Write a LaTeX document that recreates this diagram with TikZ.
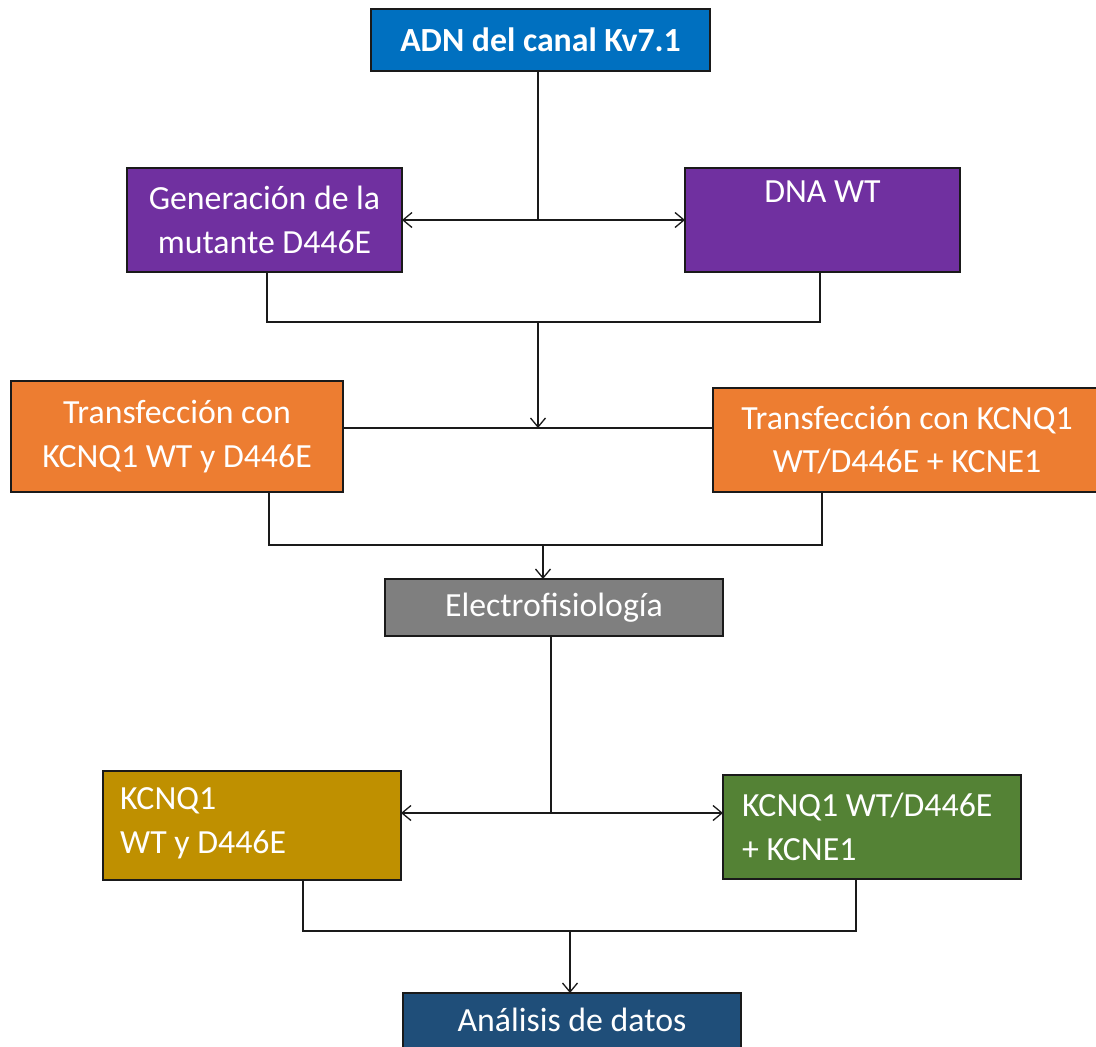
\documentclass[tikz,border=0pt]{standalone}
\usepackage{fontspec}
\setmainfont{Carlito}
\usetikzlibrary{arrows.meta}
\definecolor{cblue}{HTML}{0070C0}
\definecolor{cpurple}{HTML}{7030A0}
\definecolor{corange}{HTML}{ED7D31}
\definecolor{cgray}{HTML}{7F7F7F}
\definecolor{cyellow}{HTML}{BF9000}
\definecolor{cgreen}{HTML}{548235}
\definecolor{cnavy}{HTML}{1F4E79}
\definecolor{cline}{HTML}{1A1A1A}
\begin{document}
\begin{tikzpicture}[x=1pt,y=-1pt,
  box/.style={draw=cline,line width=1.6pt,text=white,inner sep=0pt,outer sep=0pt,
    font=\fontsize{33.8}{43.5}\selectfont,align=center},
  ltext/.style={text=white,inner sep=0pt,anchor=west,align=left,font=\fontsize{33.8}{43.5}\selectfont},
  conn/.style={draw=cline,line width=1.5pt},
  arr/.style={conn,-{Straight Barb[length=9pt,width=15pt,line width=1.3pt]}}]
\useasboundingbox (0,0) rectangle (1096,1047);
\fill[white] (0,0) rectangle (1096,1047);
% boxes
\node[box,fill=cblue,minimum width=339pt,minimum height=62pt,font=\fontsize{33.8}{43.5}\selectfont\bfseries] (top) at (540.5,40) {ADN del canal Kv7.1};
\node[box,fill=cpurple,minimum width=275pt,minimum height=104pt] (gen) at (264.5,220) {Generación de la\\mutante D446E};
\node[box,fill=cpurple,minimum width=275pt,minimum height=104pt] (dna) at (822.5,220) {DNA WT\\\strut};
\node[box,fill=corange,minimum width=332pt,minimum height=111pt] (tl) at (177,436.5) {Transfección con\\KCNQ1 WT y D446E};
\node[box,fill=corange,minimum width=388pt,minimum height=104pt] (tr) at (907,440) {Transfección con KCNQ1\\WT/D446E + KCNE1};
\node[box,fill=cgray,minimum width=338pt,minimum height=57pt] (el) at (554,607.5) {Electrofisiología};
\node[box,fill=cyellow,minimum width=298pt,minimum height=109pt] (bl) at (252,825.5) {};
\node[ltext] (bltext) at (120,823) {KCNQ1\\WT y D446E};
\node[box,fill=cgreen,minimum width=298pt,minimum height=104pt] (br) at (872,827) {};
\node[ltext] (brtext) at (742,827) {KCNQ1 WT/D446E\\+ KCNE1};
\node[box,fill=cnavy,minimum width=338pt,minimum height=64pt] (an) at (572,1025) {};
\node[text=white,font=\fontsize{33.8}{43.5}\selectfont,anchor=base] (antext) at (572,1031) {Análisis de datos};
% junction coordinates
\coordinate (j1) at (538,220);
\coordinate (b1) at (538,322);
\coordinate (c1) at (538,428);
\coordinate (gx) at (267,322);
\coordinate (dx) at (820,322);
\coordinate (tlx) at (269,545);
\coordinate (trx) at (822,545);
\coordinate (b2) at (543,545);
\coordinate (j2) at (551,813);
\coordinate (blx) at (303,931);
\coordinate (brx) at (856,931);
\coordinate (b3) at (570,931);
% connectors
\draw[conn] (top.south -| j1) -- (j1);
\draw[arr] (j1) -- (gen.east |- j1);
\draw[arr] (j1) -- (dna.west |- j1);
\draw[conn] (gen.south -| gx) -- (gx) -- (dx) -- (dna.south -| dx);
\draw[conn] (tl.east |- c1) -- (tr.west |- c1);
\draw[arr] (b1) -- (c1);
\draw[conn] (tl.south -| tlx) -- (tlx) -- (trx) -- (tr.south -| trx);
\draw[arr] (b2) -- (el.north -| b2);
\draw[conn] (el.south -| j2) -- (j2);
\draw[arr] (j2) -- (bl.east |- j2);
\draw[arr] (j2) -- (br.west |- j2);
\draw[conn] (bl.south -| blx) -- (blx) -- (brx) -- (br.south -| brx);
\draw[arr] (b3) -- (an.north -| b3);
\end{tikzpicture}
\end{document}
